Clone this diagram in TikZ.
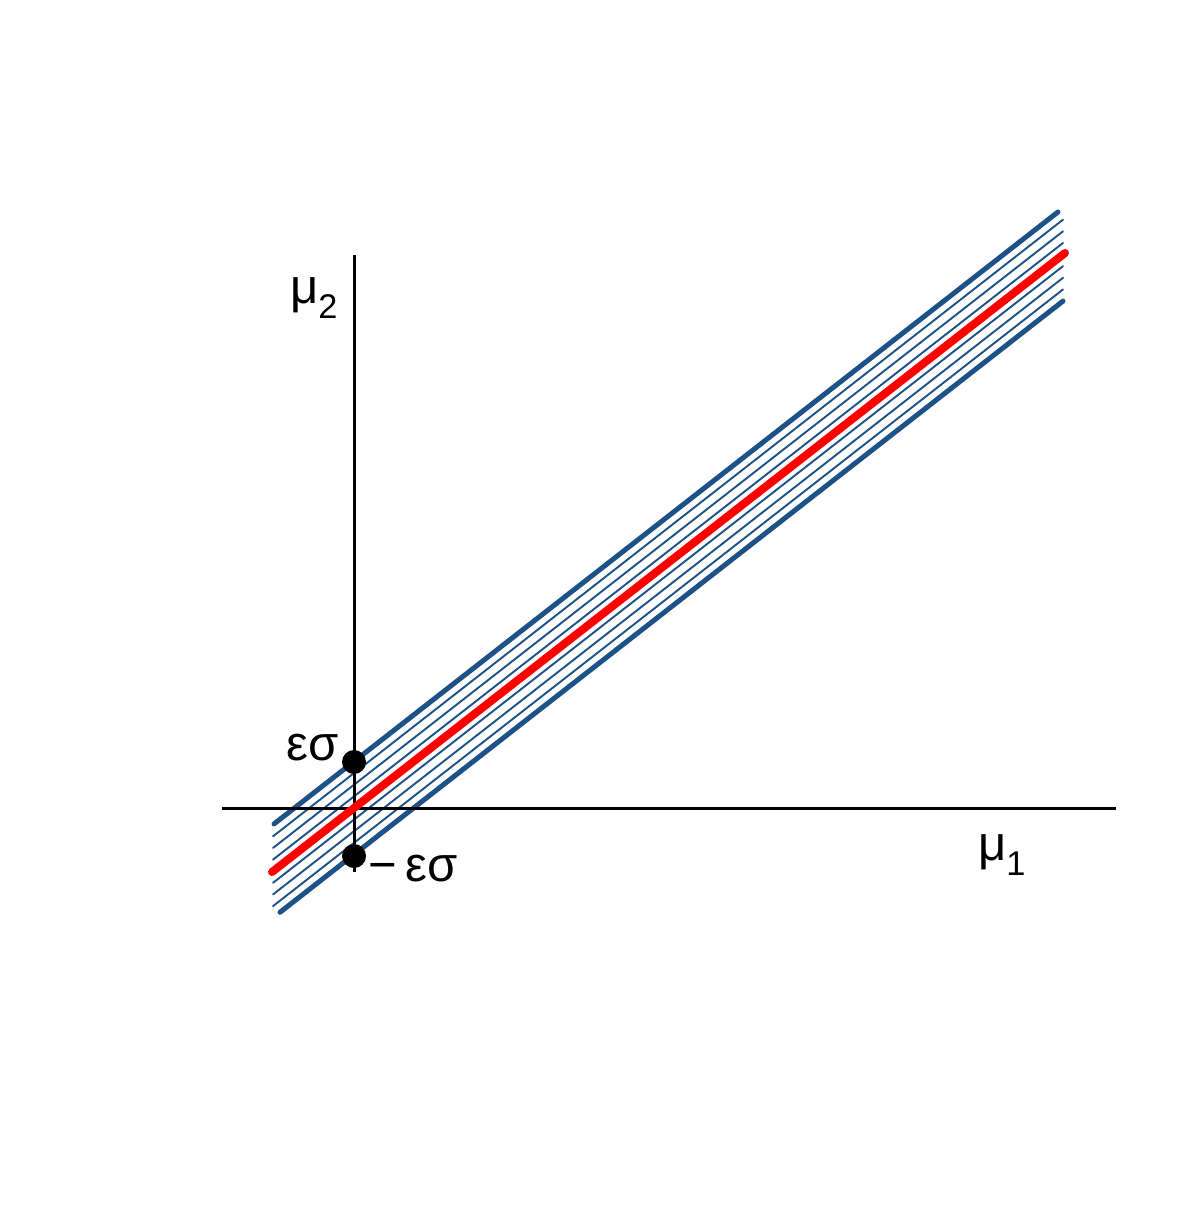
\documentclass[tikz,border=0pt]{standalone}
\usepackage{fontspec}
\setmainfont{Liberation Sans}
\definecolor{bandblue}{HTML}{1D5289}
\begin{document}
\begin{tikzpicture}[x=1pt,y=-1pt,
  axis/.style={line width=3pt,black},
  edge/.style={line width=5pt,bandblue,line cap=round},
  hatch/.style={line width=1.9pt,bandblue,line cap=round},
  redline/.style={line width=8pt,red,line cap=round},
  dot/.style={circle,fill=black,inner sep=0pt,minimum size=24pt},
  lab/.style={inner sep=0pt,font=\fontsize{49}{52}\selectfont}]
\useasboundingbox (0,0) rectangle (1200,1209);
\def\m{0.7806}
% axes
\coordinate (xl) at (222,808);
\coordinate (xr) at (1116,808);
\coordinate (yt) at (354,255);
\coordinate (yb) at (354,872);
% hatch lines (offsets from the red line)
\foreach \o/\n in {-34.9/a,-23.25/b,-11.6/c,11.6/d,23.25/e,34.9/f}{
  \coordinate (h\n1) at (273,{808+\o+\m*81});
  \coordinate (h\n2) at (1063,{808+\o-\m*709});
  \draw[hatch] (h\n1) -- (h\n2);
}
% band edges
\coordinate (u1) at (274,{761.5+\m*80});
\coordinate (u2) at (1058,{761.5-\m*704});
\coordinate (l1) at (280,{854.5+\m*74});
\coordinate (l2) at (1063,{854.5-\m*709});
\draw[edge] (u1) -- (u2);
\draw[edge] (l1) -- (l2);
\draw[axis] (xl) -- (xr);
\draw[axis] (yt) -- (yb);
% red line
\coordinate (r1) at (272,{808+\m*82});
\coordinate (r2) at (1065,{808-\m*711});
\draw[redline] (r1) -- (r2);
% dots
\node[dot] (pe) at (354,762) {};
\node[dot] (me) at (354,856) {};
% labels
\node[lab] (leps) at (313,748) {εσ};
\node[lab] (lmeps) at (413,869) {−\,εσ};
\node[lab] (lmu2) at (314,298) {μ\textsubscript{2}};
\node[lab] (lmu1) at (1002,855) {μ\textsubscript{1}};
\end{tikzpicture}
\end{document}
